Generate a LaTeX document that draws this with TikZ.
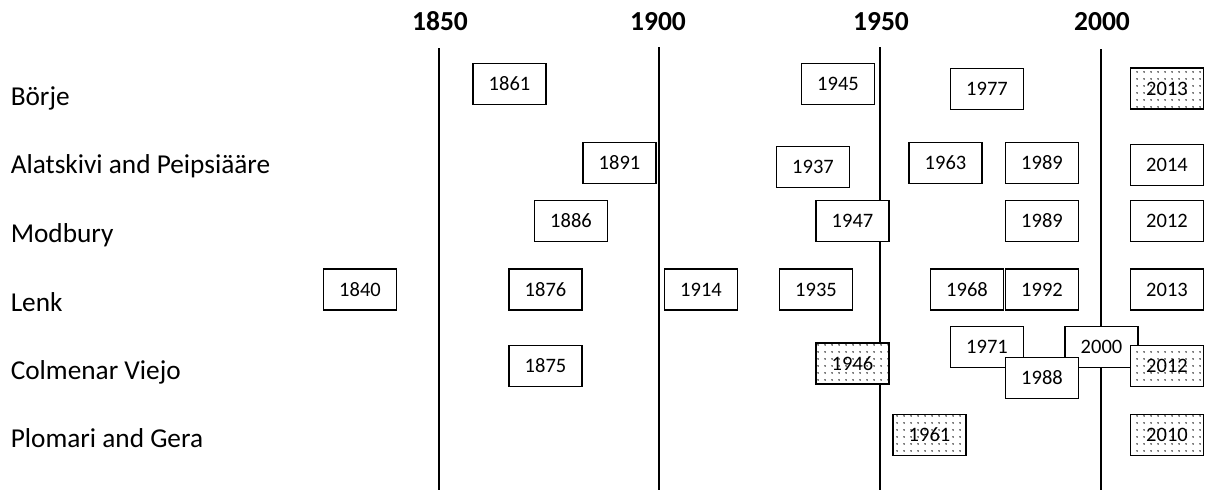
\documentclass[tikz,border=0pt]{standalone}
\usepackage{fontspec}
\setmainfont{Carlito}
\usetikzlibrary{patterns.meta}

\tikzset{every picture/.style={line width=1.5pt}}
\tikzset{yearbox/.style={draw,fill=white,minimum width=73pt,minimum height=41pt,inner sep=0pt,font=\fontsize{20.5}{24}\selectfont}}
\tikzset{dotbox/.style={yearbox,postaction={pattern={Dots[distance=6.5pt,radius=0.9pt]}}}}
\tikzset{rowlabel/.style={anchor=base west,inner sep=0pt,font=\fontsize{27.3}{32}\selectfont}}
\tikzset{decade/.style={anchor=base,inner sep=0pt,font=\fontsize{27.5}{32}\selectfont\bfseries}}

\begin{document}
\begin{tikzpicture}[x=1pt,y=1pt,yscale=-1,xscale=1]
\useasboundingbox (0,0) rectangle (1207,490);

%Straight Lines
\draw (439,48) -- (439,490) ;
\draw (659,47) -- (659,490) ;
\draw (880,47) -- (880,490) ;
\draw (1101,49) -- (1101,490) ;

% Text Node
\draw (440,30) node (h1850) [decade] {1850};
\draw (658,30) node (h1900) [decade] {1900};
\draw (881,30) node (h1950) [decade] {1950};
\draw (1102,30) node (h2000) [decade] {2000};

% Text Node
\draw (10,105) node (borje) [rowlabel] {Börje};
\draw (10,173) node (alatskivi) [rowlabel] {Alatskivi and Peipsiääre};
\draw (10,242) node (modbury) [rowlabel] {Modbury};
\draw (10,311) node (lenk) [rowlabel] {Lenk};
\draw (10,379) node (colmenar) [rowlabel] {Colmenar Viejo};
\draw (10,447) node (plomari) [rowlabel] {Plomari and Gera};

%Shape: Rectangle
\draw (509.5,84) node (b1861) [yearbox] {1861};
\draw (838,84) node (b1945) [yearbox] {1945};
\draw (987,89) node (b1977) [yearbox] {1977};
\draw (1167,88.5) node (b2013) [dotbox] {2013};
%Shape: Rectangle
\draw (619.5,163) node (a1891) [yearbox] {1891};
\draw (813,167) node (a1937) [yearbox] {1937};
\draw (945.5,163) node (a1963) [yearbox] {1963};
\draw (1042,163) node (a1989) [yearbox] {1989};
\draw (1167,165) node (a2014) [yearbox] {2014};
%Shape: Rectangle
\draw (571,221) node (m1886) [yearbox] {1886};
\draw (852.5,221) node (m1947) [yearbox] {1947};
\draw (1042,221) node (m1989) [yearbox] {1989};
\draw (1167,221) node (m2012) [yearbox] {2012};
%Shape: Rectangle
\draw (360,289.5) node (l1840) [yearbox] {1840};
\draw (545.5,289.5) node (l1876) [yearbox] {1876};
\draw (701,289.5) node (l1914) [yearbox] {1914};
\draw (816,289.5) node (l1935) [yearbox] {1935};
\draw (967,289.5) node (l1968) [yearbox] {1968};
\draw (1042,289.5) node (l1992) [yearbox] {1992};
\draw (1167,289.5) node (l2013) [yearbox] {2013};
%Shape: Rectangle
\draw (545.5,366) node (c1875) [yearbox] {1875};
\draw (852.5,363.5) node (c1946) [dotbox] {1946};
\draw (987,347) node (c1971) [yearbox] {1971};
\draw (1101.5,347) node (c2000) [yearbox] {2000};
\draw (1042,378) node (c1988) [yearbox] {1988};
\draw (1167,366) node (c2012) [dotbox] {2012};
%Shape: Rectangle
\draw (929.5,435) node (p1961) [dotbox] {1961};
\draw (1167,435) node (p2010) [dotbox] {2010};

\end{tikzpicture}
\end{document}
